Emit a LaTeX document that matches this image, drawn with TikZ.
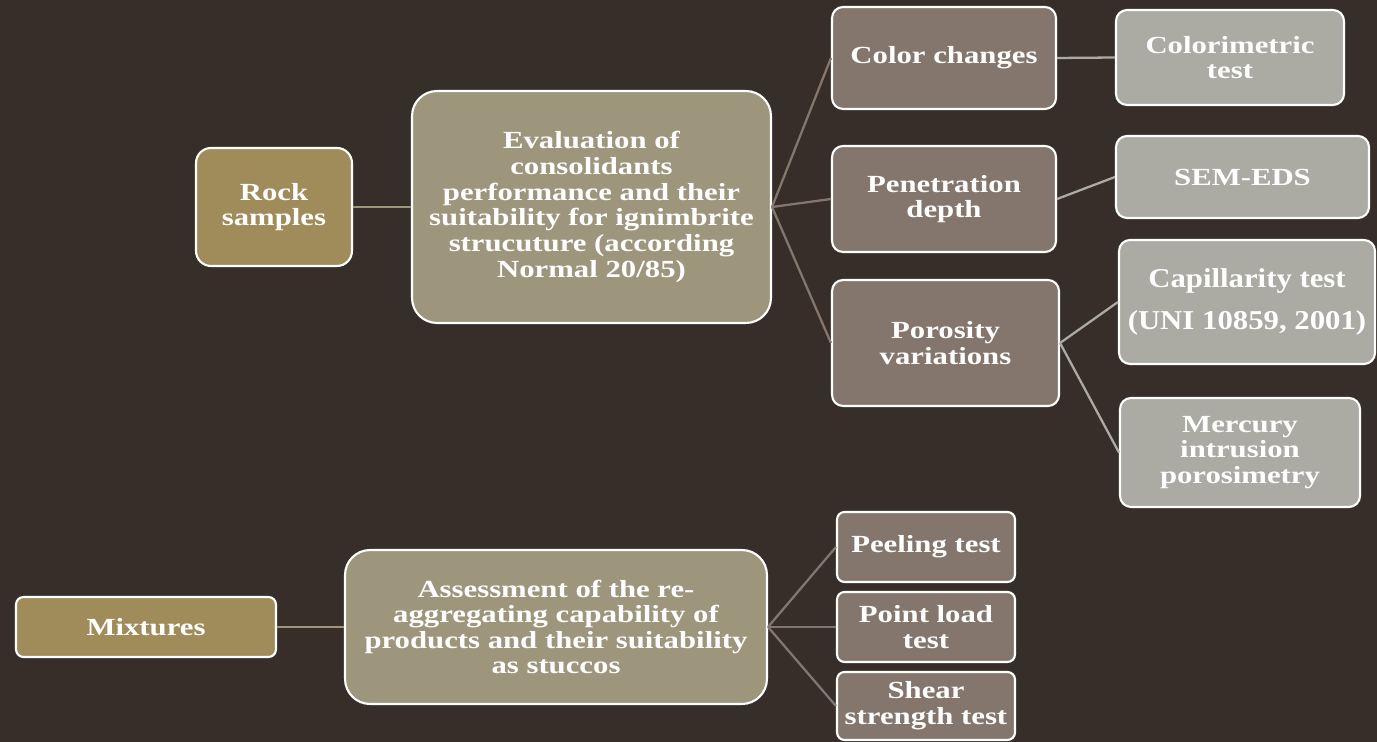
\documentclass[tikz,border=0pt]{standalone}
\usepackage{fontspec}
\setmainfont{Liberation Serif}[FakeStretch=1.25]
\newfontfamily\capfont{Liberation Serif}[FakeStretch=1.13]
\definecolor{bgdark}{HTML}{372E29}
\definecolor{ochre}{HTML}{A08C5B}
\definecolor{khaki}{HTML}{9E957D}
\definecolor{taupe}{HTML}{84766C}
\definecolor{ashgray}{HTML}{ABABA4}
\begin{document}
\begin{tikzpicture}[
        x=0.02cm, y=-0.02cm,
        box/.style={rectangle, rounded corners=0.22cm, draw=white, line width=1.2pt,
            text=white, align=center, inner sep=0pt,
            font=\bfseries\fontsize{14}{14.6}\selectfont},
        lvl1/.style={box, fill=ochre, rounded corners=0.3cm},
        lvl2/.style={box, fill=khaki, rounded corners=0.5cm},
        lvl3/.style={box, fill=taupe},
        lvl4/.style={box, fill=ashgray},
        link/.style={line width=1.3pt},
    ]

        \fill[bgdark] (0,0) rectangle (1377,742);
        \useasboundingbox (0,0) rectangle (1377,742);

        % upper tree
        \node[lvl1, minimum width=3.12cm, minimum height=2.36cm] (rock) at (274,207) {Rock\\samples};
        \node[lvl2, minimum width=7.18cm, minimum height=4.64cm] (eval) at (591.5,207)
            {Evaluation of\\consolidants\\performance and their\\suitability for ignimbrite\\strucuture (according\\Normal 20/85)};

        \node[lvl3, minimum width=4.48cm, minimum height=2.04cm] (color) at (944,58) {Color changes};
        \node[lvl3, minimum width=4.48cm, minimum height=2.12cm] (pen) at (944,199) {Penetration\\depth};
        \node[lvl3, minimum width=4.54cm, minimum height=2.52cm] (poro) at (945.5,343) {Porosity\\variations};

        \node[lvl4, minimum width=4.56cm, minimum height=1.90cm] (colori) at (1230,57.5) {Colorimetric\\test};
        \node[lvl4, minimum width=5.06cm, minimum height=1.64cm] (sem) at (1242.5,177) {SEM-EDS};
        \node[lvl4, minimum width=5.12cm, minimum height=2.48cm,
            font=\capfont\bfseries\fontsize{15.5}{24.4}\selectfont] (capil) at (1247,302) {Capillarity test\\(UNI 10859, 2001)};
        \node[lvl4, minimum width=4.80cm, minimum height=2.18cm] (merc) at (1240,452.5) {Mercury\\intrusion\\porosimetry};

        % lower tree
        \node[lvl1, minimum width=5.20cm, minimum height=1.20cm, rounded corners=0.15cm] (mix) at (146,627) {Mixtures};
        \node[lvl2, minimum width=8.44cm, minimum height=3.08cm] (assess) at (556,627)
            {Assessment of the re-\\aggregating capability of\\products and their suitability\\as stuccos};

        \node[lvl3, minimum width=3.56cm, minimum height=1.40cm, rounded corners=0.15cm] (peel) at (926,547) {Peeling test};
        \node[lvl3, minimum width=3.56cm, minimum height=1.40cm, rounded corners=0.15cm] (point) at (926,627) {Point load\\test};
        \node[lvl3, minimum width=3.56cm, minimum height=1.36cm, rounded corners=0.15cm] (shear) at (926,706) {Shear\\strength test};

        % connectors
        \draw[link, khaki] (rock.east) -- (eval.west);
        \draw[link, khaki] (mix.east) -- (assess.west);
        \foreach \target in {color,pen,poro} {
            \draw[link, taupe] (eval.east) -- (\target.west);
        }
        \foreach \target in {peel,point,shear} {
            \draw[link, taupe] (assess.east) -- (\target.west);
        }
        \draw[link, ashgray] (color.east) -- (colori.west);
        \draw[link, ashgray] (pen.east) -- (sem.west);
        \draw[link, ashgray] (poro.east) -- (capil.west);
        \draw[link, ashgray] (poro.east) -- (merc.west);
    \end{tikzpicture}
\end{document}
